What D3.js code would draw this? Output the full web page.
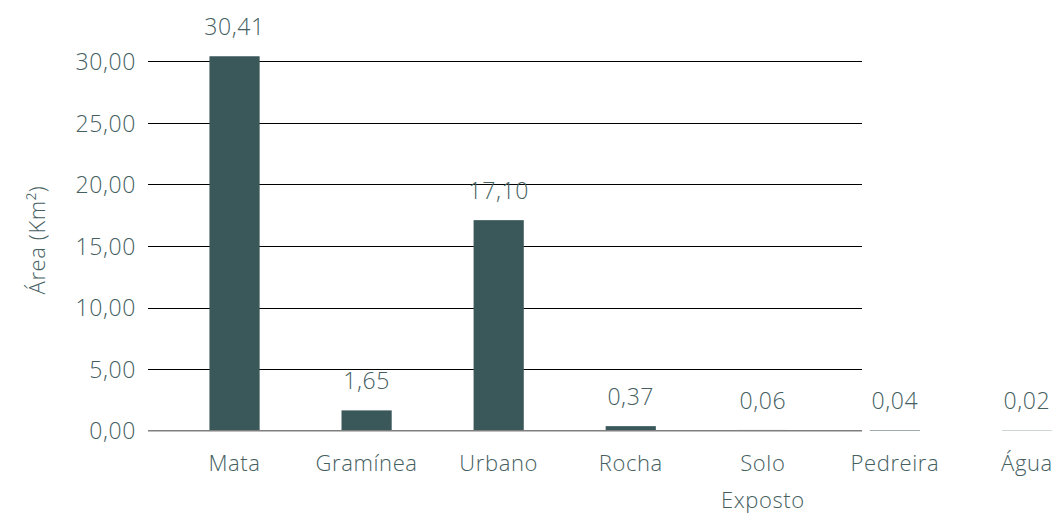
<!DOCTYPE html>
<html>
<head>
<meta charset="utf-8">
<script src="https://cdn.jsdelivr.net/npm/d3@7"></script>
<style>
  html, body { margin: 0; padding: 0; background: #ffffff; }
  svg text { font-family: "Open Sans", "DejaVu Sans", sans-serif; font-weight: 300; fill: #45605f; letter-spacing: 0.6px; }
</style>
</head>
<body>
<svg id="chart" width="1064" height="515"></svg>
<script>
const categories = [["Mata"], ["Gramínea"], ["Urbano"], ["Rocha"], ["Solo", "Exposto"], ["Pedreira"], ["Água"]];
const values = [30.41, 1.65, 17.10, 0.37, 0.06, 0.04, 0.02];
const yTicks = [0, 5, 10, 15, 20, 25, 30];
const yTitle = "Área (Km²)";

const svg = d3.select("#chart");
const keys = categories.map(c => c.join(" "));
const fmt = v => d3.format(".2f")(v).replace(".", ",");

const x = d3.scaleBand().domain(keys).range([168.5, 1093]).paddingInner(0.62).paddingOuter(0.31);
const y = d3.scaleLinear().domain([0, 30]).range([430.7, 61.3]);
const gridX0 = 148, gridX1 = 862;

// gridlines
svg.append("g").selectAll("line").data(yTicks.filter(t => t > 0)).join("line")
  .attr("x1", gridX0).attr("x2", gridX1)
  .attr("y1", d => Math.round(y(d)) + 0.5).attr("y2", d => Math.round(y(d)) + 0.5)
  .attr("stroke", "#000").attr("stroke-width", 1.2);

// y axis labels
const yAxis = d3.axisLeft(y).tickValues(yTicks).tickFormat(fmt).tickSize(0).tickPadding(0);
const ga = svg.append("g").attr("transform", `translate(136,0)`).call(yAxis);
ga.select(".domain").remove();
ga.selectAll("text").attr("font-size", 23).attr("font-family", null).attr("fill", null).attr("dy", "0.36em");

// bars
svg.append("g").selectAll("rect").data(values).join("rect")
  .attr("x", (d, i) => x(keys[i]))
  .attr("width", x.bandwidth())
  .attr("y", d => y(d))
  .attr("height", d => y(0) - y(d))
  .attr("fill", "#3a5759");

// baseline
svg.append("line").attr("x1", gridX0).attr("x2", gridX1)
  .attr("y1", y(0)).attr("y2", y(0))
  .attr("stroke", "#7f7f7f").attr("stroke-width", 1.5);

// value labels
svg.append("g").selectAll("text").data(values).join("text")
  .attr("x", (d, i) => x(keys[i]) + x.bandwidth() / 2)
  .attr("y", d => y(d) - 21)
  .attr("text-anchor", "middle")
  .attr("font-size", 23)
  .text(d => fmt(d));

// category labels
const cg = svg.append("g").selectAll("text").data(categories).join("text")
  .attr("x", (d, i) => x(keys[i]) + x.bandwidth() / 2)
  .attr("y", 471)
  .attr("text-anchor", "middle")
  .attr("font-size", 22);
cg.selectAll("tspan").data(d => d).join("tspan")
  .attr("x", function() { return d3.select(this.parentNode).attr("x"); })
  .attr("dy", (d, i) => i === 0 ? 0 : 37)
  .text(d => d);

// y title
svg.append("text")
  .attr("transform", `translate(45,240) rotate(-90)`)
  .attr("text-anchor", "middle")
  .attr("font-size", 22)
  .text(yTitle);
</script>
</body>
</html>
